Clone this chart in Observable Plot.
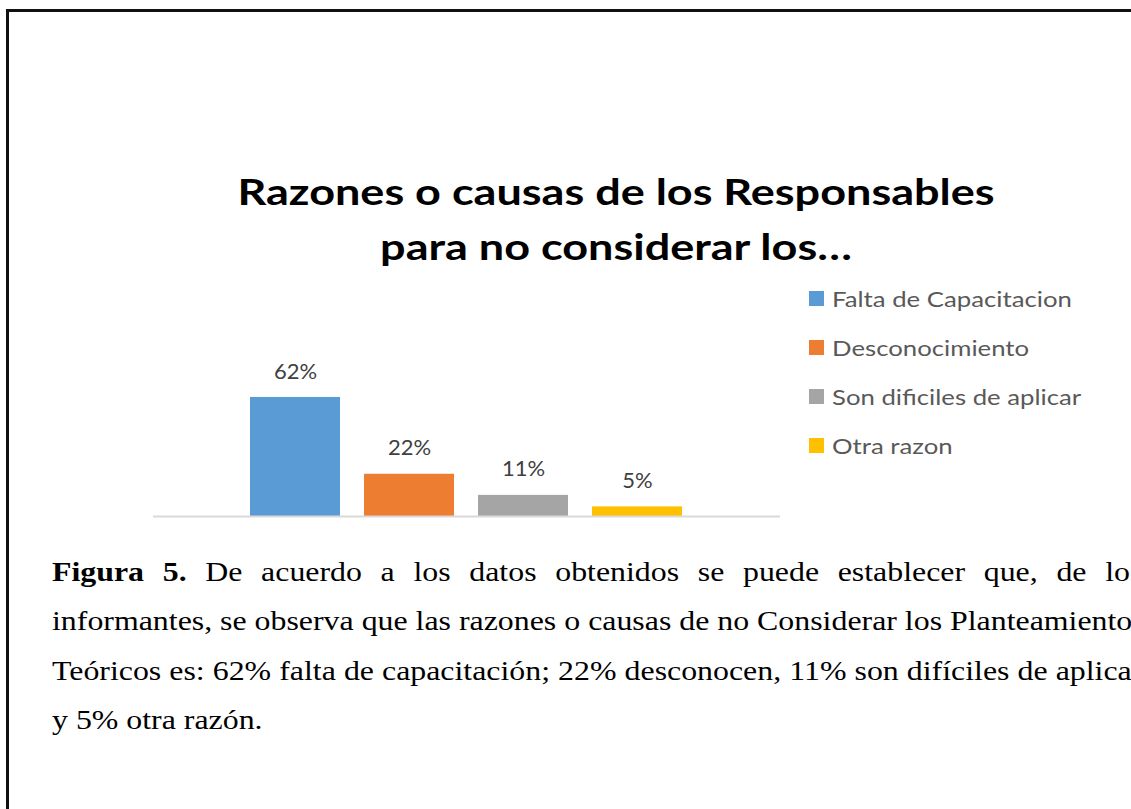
<!DOCTYPE html>
<html>
<head>
<meta charset="utf-8">
<script src="https://cdn.jsdelivr.net/npm/d3@7"></script>
<script src="https://cdn.jsdelivr.net/npm/@observablehq/plot@0.6"></script>
<style>
  html, body { margin: 0; padding: 0; background: #fff; }
  body { width: 1131px; height: 809px; overflow: hidden; position: relative; }
  #frame { position: absolute; left: 6px; top: 9px; width: 1300px; height: 1000px; border: 3px solid #111; box-sizing: border-box; }
  #title { position: absolute; left: 0; width: 1232px; top: 164px; text-align: center; font-family: Lato, "Open Sans", sans-serif; font-weight: 700; font-size: 36px; line-height: 55px; color: #000; transform: scaleX(1.25); transform-origin: 50% 0; }
  #legend { position: absolute; left: 809px; top: 274px; font-family: Lato, "Open Sans", sans-serif; font-size: 22px; color: #595959; }
  #legend .row { height: 49px; display: flex; align-items: center; }
  #legend .sw { width: 15px; height: 15px; margin-right: 8px; flex: none; }
  #legend .lt { display: inline-block; transform: scaleX(1.17); transform-origin: 0 50%; white-space: nowrap; }
  #chart { position: absolute; left: 140px; top: 350px; }
  #caption { position: absolute; left: 52px; top: 548px; width: 924px; font-family: "Liberation Serif", "Times New Roman", serif; font-size: 27px; line-height: 49.3px; color: #000; transform: scaleX(1.18); transform-origin: 0 0; }
  #caption .ln { white-space: nowrap; text-align: justify; text-align-last: justify; }
  #caption .ln.last { text-align: left; text-align-last: left; }
</style>
</head>
<body>
<div id="frame"></div>
<div id="title"></div>
<div id="legend"></div>
<div id="chart"></div>
<div id="caption"></div>
<script>
const titleLines = ["Razones o causas de los Responsables", "para no considerar los…"];
const categories = ["Falta de Capacitacion", "Desconocimiento", "Son dificiles de aplicar", "Otra razon"];
const values = [62, 22, 11, 5];
const valueLabels = ["62%", "22%", "11%", "5%"];
const colors = ["#5B9BD5", "#ED7D31", "#A5A5A5", "#FFC000"];
const captionLead = "Figura 5.";
const captionLines = [
  " De acuerdo a los datos obtenidos se puede establecer que, de los",
  "informantes, se observa que las razones o causas de no Considerar los Planteamientos",
  "Teóricos es: 62% falta de capacitación; 22% desconocen, 11% son difíciles de aplicar",
  "y 5% otra razón."
];

const data = categories.map((c, i) => ({cat: c, value: values[i], label: valueLabels[i]}));

document.getElementById("title").innerHTML = titleLines.join("<br>");

const legend = document.getElementById("legend");
categories.forEach((c, i) => {
  const row = document.createElement("div");
  row.className = "row";
  const sw = document.createElement("span");
  sw.className = "sw";
  sw.style.background = colors[i];
  const t = document.createElement("span");
  t.className = "lt";
  t.textContent = c;
  row.appendChild(sw);
  row.appendChild(t);
  legend.appendChild(row);
});

const cap = document.getElementById("caption");
captionLines.forEach((line, i) => {
  const d = document.createElement("div");
  d.className = "ln" + (i === captionLines.length - 1 ? " last" : "");
  if (i === 0) {
    const b = document.createElement("b");
    b.textContent = captionLead;
    d.appendChild(b);
  }
  d.appendChild(document.createTextNode(line));
  cap.appendChild(d);
});

const chart = Plot.plot({
  width: 660,
  height: 180,
  marginLeft: 13,
  marginRight: 20,
  marginTop: 31.6,
  marginBottom: 14,
  x: {domain: categories, paddingInner: 0.21, paddingOuter: 0.855, axis: null},
  y: {domain: [0, 70], axis: null},
  color: {domain: categories, range: colors},
  style: {fontFamily: "Lato, 'Open Sans', sans-serif", background: "transparent", overflow: "visible"},
  marks: [
    Plot.barY(data, {x: "cat", y: "value", fill: "cat"}),
    Plot.ruleY([0], {stroke: "#d9d9d9", strokeWidth: 2}),
    Plot.text(data, {x: "cat", y: "value", text: "label", dy: -26, fill: "#404040", fontSize: 22})
  ]
});
document.getElementById("chart").appendChild(chart);
</script>
</body>
</html>
